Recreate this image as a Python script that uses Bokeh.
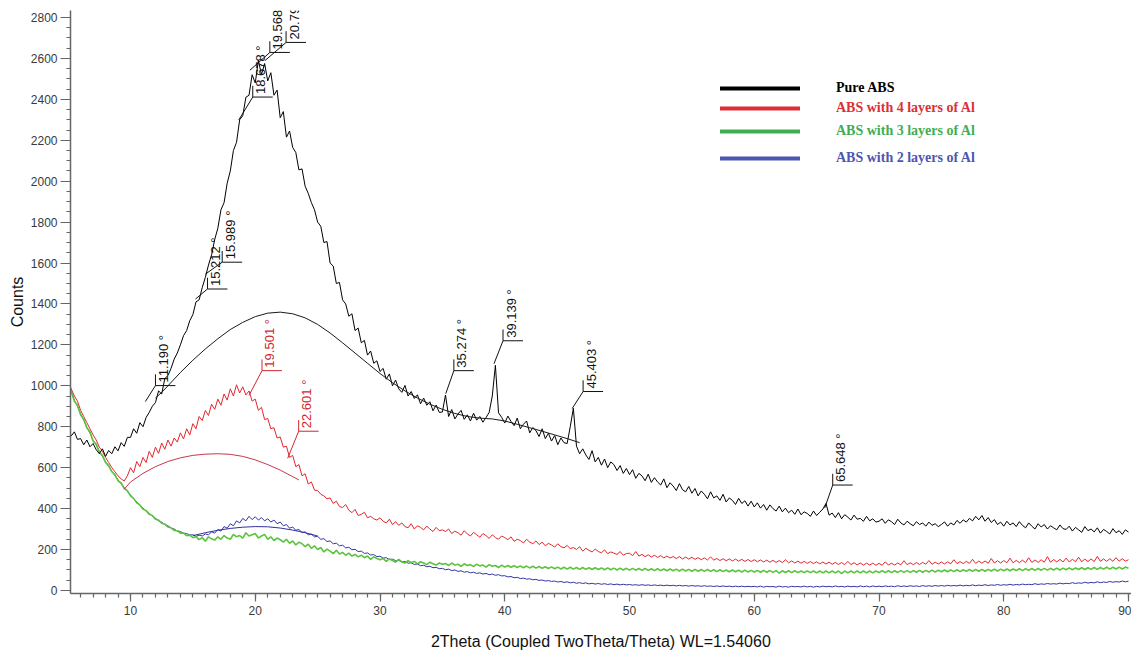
import math
from bokeh.plotting import figure
from bokeh.models import Range1d, SingleIntervalTicker, Legend, LegendItem
from bokeh.core.properties import value
from bokeh.embed import file_html
from bokeh.resources import INLINE

# ---------------- data (2Theta grid: 5.00, 5.25, ... 90.00) ----------------
X0 = 5.0
STEP = 0.25

pure_abs = [
    790, 755, 775, 738, 742, 712, 735, 702, 718, 688, 668, 692, 655, 684, 668, 702, 682, 722, 704, 748,
    748, 790, 768, 820, 800, 845, 870, 900, 918, 975, 960, 1035, 1050, 1085, 1130, 1160, 1200, 1245, 1270, 1318,
    1348, 1410, 1420, 1480, 1530, 1590, 1640, 1715, 1770, 1860, 1895, 1990, 2050, 2150, 2190, 2300, 2320, 2410, 2420, 2520,
    2480, 2590, 2520, 2575, 2490, 2530, 2420, 2445, 2310, 2340, 2215, 2245, 2165, 2140, 2055, 2060, 1975, 1940, 1895, 1860,
    1800, 1780, 1700, 1705, 1600, 1585, 1500, 1505, 1420, 1400, 1340, 1352, 1270, 1282, 1210, 1222, 1150, 1170, 1110, 1122,
    1070, 1085, 1032, 1058, 1000, 1028, 985, 968, 1002, 950, 972, 938, 956, 912, 940, 905, 922, 878, 906, 870,
    872, 955, 850, 884, 838, 862, 880, 836, 858, 828, 866, 832, 850, 822, 845, 870, 950, 1100, 868, 846,
    818, 852, 826, 805, 842, 790, 812, 828, 770, 796, 781, 752, 790, 742, 768, 730, 757, 712, 745, 722,
    718, 800, 890, 705, 668, 692, 662, 640, 683, 628, 650, 612, 642, 600, 628, 615, 586, 610, 572, 596,
    566, 590, 548, 572, 560, 536, 568, 528, 551, 530, 515, 545, 502, 526, 510, 488, 522, 492, 482, 508,
    475, 498, 462, 486, 470, 448, 482, 452, 462, 440, 470, 432, 452, 440, 420, 450, 425, 438, 412, 436,
    408, 428, 402, 420, 392, 418, 400, 388, 412, 384, 402, 380, 392, 372, 398, 370, 384, 376, 362, 388,
    366, 382, 398, 425, 368, 378, 356, 380, 350, 370, 358, 344, 368, 348, 352, 338, 362, 340, 350, 334,
    338, 350, 328, 345, 336, 322, 348, 330, 320, 338, 326, 316, 336, 322, 330, 314, 334, 318, 326, 312,
    322, 335, 314, 330, 320, 342, 328, 345, 334, 352, 340, 362, 345, 366, 338, 356, 332, 346, 322, 334,
    314, 338, 320, 330, 312, 336, 318, 306, 330, 314, 300, 326, 310, 322, 300, 316, 306, 296, 320, 302,
    298, 314, 290, 308, 296, 284, 312, 292, 300, 286, 306, 280, 298, 288, 276, 302, 282, 292, 274, 296,
    285,
]

al4 = [
    1020, 985, 950, 925, 880, 850, 820, 790, 760, 735, 700, 680, 650, 625, 600, 580, 560, 545, 535, 560,
    600, 575, 630, 605, 650, 625, 680, 650, 700, 670, 720, 690, 735, 705, 745, 725, 770, 740, 790, 760,
    815, 790, 850, 830, 880, 855, 910, 885, 935, 905, 960, 930, 985, 950, 1005, 965, 995, 955, 975, 925,
    935, 880, 895, 835, 840, 790, 795, 745, 750, 700, 705, 650, 660, 605, 615, 560, 570, 520, 530, 490,
    488, 470, 462, 448, 452, 425, 436, 410, 405, 420, 392, 380, 396, 366, 372, 382, 355, 362, 350, 344,
    355, 338, 330, 348, 322, 336, 318, 330, 312, 306, 326, 300, 316, 308, 296, 314, 300, 288, 308, 292,
    296, 288, 300, 278, 290, 282, 270, 292, 276, 266, 284, 272, 260, 278, 268, 254, 272, 258, 250, 266,
    258, 248, 262, 240, 250, 244, 232, 250, 236, 228, 242, 224, 236, 218, 230, 222, 212, 228, 214, 208,
    220, 204, 210, 200, 214, 192, 206, 196, 188, 202, 190, 184, 198, 180, 188, 182, 176, 190, 172, 180,
    182, 170, 190, 168, 176, 165, 174, 163, 172, 161, 170, 159, 168, 158, 166, 156, 165, 154, 163, 153,
    162, 152, 160, 150, 159, 149, 164, 148, 156, 146, 155, 145, 154, 144, 153, 143, 152, 142, 151, 141,
    150, 140, 149, 139, 148, 138, 147, 137, 146, 136, 150, 135, 144, 134, 143, 133, 142, 132, 141, 131,
    140, 130, 139, 129, 138, 128, 137, 127, 136, 126, 142, 126, 135, 125, 134, 124, 133, 124, 133, 123,
    132, 123, 140, 124, 133, 124, 134, 125, 145, 126, 135, 126, 136, 127, 137, 128, 146, 128, 138, 129,
    139, 129, 140, 130, 150, 131, 141, 131, 142, 132, 152, 132, 143, 133, 144, 133, 156, 134, 145, 134,
    146, 135, 158, 135, 147, 136, 148, 136, 160, 137, 149, 137, 150, 138, 165, 138, 151, 139, 152, 139,
    158, 139, 152, 140, 162, 140, 153, 141, 154, 141, 166, 142, 154, 142, 155, 142, 160, 143, 155, 143,
    150,
]

al3 = [
    1000, 972, 925, 905, 858, 835, 795, 775, 730, 715, 676, 660, 626, 610, 580, 566, 536, 525, 497, 488,
    462, 450, 428, 418, 398, 390, 372, 366, 348, 344, 328, 324, 310, 306, 293, 292, 280, 281, 268, 270,
    258, 262, 248, 258, 240, 262, 252, 246, 262, 250, 268, 256, 250, 274, 262, 268, 256, 282, 266, 272,
    278, 256, 266, 274, 250, 262, 244, 256, 248, 236, 250, 230, 242, 222, 236, 228, 214, 226, 206, 218,
    200, 210, 188, 202, 192, 180, 196, 178, 186, 172, 182, 168, 176, 164, 172, 160, 168, 152, 164, 156,
    150, 156, 142, 154, 146, 138, 152, 140, 134, 146, 136, 142, 130, 140, 134, 126, 138, 130, 124, 134,
    128, 132, 122, 134, 124, 128, 118, 130, 122, 126, 116, 128, 120, 124, 114, 126, 118, 122, 112, 124,
    114, 122, 113, 121, 112, 120, 111, 119, 110, 118, 109, 117, 108, 116, 107, 115, 106, 114, 105, 113,
    104, 113, 104, 112, 103, 112, 103, 111, 102, 111, 102, 110, 101, 110, 101, 109, 100, 109, 100, 108,
    99, 108, 99, 107, 98, 107, 98, 106, 97, 106, 97, 105, 96, 105, 96, 104, 95, 104, 95, 103,
    94, 103, 94, 102, 93, 102, 93, 101, 92, 101, 92, 100, 91, 100, 91, 99, 90, 99, 90, 98,
    90, 98, 89, 98, 89, 97, 88, 97, 84, 96, 88, 96, 87, 96, 87, 95, 87, 95, 87, 95,
    86, 95, 86, 95, 86, 95, 86, 95, 82, 95, 86, 95, 86, 95, 86, 95, 86, 95, 86, 95,
    87, 96, 87, 96, 87, 96, 88, 97, 88, 97, 88, 97, 89, 98, 89, 98, 90, 99, 90, 99,
    91, 100, 91, 100, 92, 101, 92, 101, 93, 102, 93, 102, 94, 103, 94, 103, 95, 104, 95, 104,
    96, 105, 96, 105, 97, 106, 97, 106, 98, 107, 98, 107, 99, 108, 99, 108, 100, 109, 100, 109,
    101, 110, 101, 110, 102, 111, 102, 111, 103, 112, 103, 112, 104, 113, 104, 113, 105, 114, 105, 114,
    108,
]

al2 = [
    1010, 975, 930, 900, 862, 835, 795, 770, 732, 712, 678, 655, 628, 606, 583, 562, 540, 522, 502, 484,
    466, 448, 433, 416, 403, 388, 377, 362, 353, 340, 333, 322, 316, 305, 300, 290, 288, 279, 278, 271,
    272, 264, 270, 266, 276, 272, 286, 280, 298, 290, 312, 304, 326, 316, 340, 330, 352, 340, 362, 346,
    360, 344, 356, 340, 350, 334, 344, 326, 334, 316, 322, 304, 310, 294, 298, 283, 286, 272, 275, 262,
    264, 250, 253, 239, 242, 228, 231, 218, 221, 208, 211, 199, 201, 190, 192, 181, 183, 173, 175, 165,
    167, 158, 160, 151, 153, 145, 147, 139, 141, 133, 135, 127, 129, 121, 123, 116, 118, 111, 113, 106,
    108, 101, 104, 97, 100, 93, 96, 89, 92, 86, 89, 83, 86, 80, 83, 77, 80, 74, 77, 71,
    72, 66, 68, 62, 64, 58, 60, 55, 57, 52, 54, 49, 51, 46, 48, 44, 46, 41, 44, 39,
    42, 37, 40, 35, 38, 34, 37, 32, 35, 31, 34, 30, 33, 29, 32, 28, 31, 27, 30, 27,
    29, 26, 28, 25, 28, 25, 27, 24, 27, 24, 26, 23, 26, 23, 25, 22, 25, 22, 24, 21,
    24, 21, 23, 20, 23, 20, 22, 19, 22, 19, 22, 19, 21, 18, 21, 18, 21, 18, 20, 18,
    20, 17, 21, 16, 20, 18, 19, 16, 21, 17, 19, 16, 20, 18, 19, 17, 21, 17, 20, 16,
    20, 17, 21, 18, 20, 17, 22, 18, 20, 17, 21, 18, 20, 17, 22, 18, 21, 17, 22, 18,
    21, 18, 22, 19, 21, 18, 23, 19, 22, 19, 23, 20, 22, 19, 24, 20, 23, 20, 24, 21,
    24, 21, 25, 22, 24, 22, 26, 22, 25, 23, 27, 23, 26, 24, 28, 24, 27, 25, 29, 25,
    28, 26, 30, 26, 29, 27, 31, 28, 30, 28, 33, 29, 32, 30, 34, 31, 33, 31, 36, 32,
    35, 33, 38, 34, 37, 35, 40, 36, 39, 37, 42, 38, 41, 39, 44, 40, 43, 41, 46, 42,
    45,
]

# smooth background (amorphous hump) curves
bg_abs_x = [12, 12.5, 13, 14, 15, 16, 17, 18, 19, 20, 21, 22, 23, 24, 25, 26, 27, 28, 29, 30,
            31, 32, 33, 34, 35, 36, 37, 38, 39, 40, 41, 42, 43, 44, 45, 46]
bg_abs_y = [940, 968, 1000, 1065, 1125, 1180, 1230, 1275, 1310, 1338, 1355, 1360, 1352, 1332, 1300, 1258, 1210, 1160, 1110, 1060,
            1015, 975, 940, 910, 885, 865, 850, 842, 838, 828, 812, 795, 778, 760, 742, 722]
bg_al4_x = [9.5, 10, 11, 12, 13, 14, 15, 16, 17, 18, 19, 20, 21, 22, 23, 23.5]
bg_al4_y = [495, 530, 572, 605, 630, 648, 660, 666, 668, 665, 655, 638, 615, 588, 556, 540]
bg_al2_x = [15, 16, 17, 18, 19, 20, 21, 22, 23, 24, 25]
bg_al2_y = [268, 282, 294, 303, 309, 312, 311, 305, 295, 282, 266]

# peak annotations: peak position, tip height, bracket x, bracket height
pk_txt = ["11.190 °", "15.212 °", "15.989 °", "18.678 °", "19.568 °", "20.795 °",
          "35.274 °", "39.139 °", "45.403 °", "65.648 °"]
pk_x = [11.190, 15.212, 15.989, 18.678, 19.568, 20.795, 35.274, 39.139, 45.403, 65.648]
pk_tip = [923, 1424, 1545, 2299, 2542, 2590, 962, 1108, 889, 403]
pk_bx = [12.0, 16.17, 17.35, 19.8, 21.17, 22.47, 35.92, 39.86, 46.28, 66.29]
pk_by = [1001, 1473, 1604, 2411, 2629, 2678, 1074, 1220, 972, 515]

rpk_txt = ["19.501 °", "22.601 °"]
rpk_x = [19.501, 22.601]
rpk_tip = [953, 646]
rpk_bx = [20.54, 23.48]
rpk_by = [1074, 778]

legend_names = ["Pure ABS", "ABS with 4 layers of Al", "ABS with 3 layers of Al", "ABS with 2 layers of Al"]

# ---------------- styles ----------------
C_BLACK = "#000000"
C_RED = "#e3262d"
C_GREEN = "#5cc43c"
C_BLUE = "#3434a8"
LEG_COLORS = ["#000000", "#dc2f36", "#3fae52", "#4e55b2"]
AX_COLOR = "#666666"
LBL_COLOR = "#3a3a3a"


def xs(vals):
    return [X0 + STEP * i for i in range(len(vals))]


p = figure(width=1131, height=656, output_backend="svg", toolbar_location=None,
           x_range=Range1d(5.19, 90.24), y_range=Range1d(-15, 2834),
           min_border_left=70, min_border_right=0, min_border_top=10, min_border_bottom=63)
p.outline_line_color = None
p.grid.visible = False
p.background_fill_color = "white"
p.border_fill_color = "white"

# axes
p.xaxis.ticker = SingleIntervalTicker(interval=10, num_minor_ticks=10)
p.yaxis.ticker = SingleIntervalTicker(interval=200, num_minor_ticks=4)
for ax in (p.xaxis, p.yaxis):
    ax.axis_line_color = AX_COLOR
    ax.axis_line_width = 1.5
    ax.major_tick_line_color = AX_COLOR
    ax.minor_tick_line_color = AX_COLOR
    ax.major_tick_line_width = 1.2
    ax.minor_tick_line_width = 1.2
    ax.major_tick_in = 0
    ax.minor_tick_in = 0
    ax.major_label_text_font = "Liberation Sans"
    ax.major_label_text_font_size = "12px"
    ax.major_label_text_color = LBL_COLOR
    ax.axis_label_text_font = "Liberation Sans"
    ax.axis_label_text_font_size = "16px"
    ax.axis_label_text_font_style = "normal"
    ax.axis_label_text_color = "#111111"
p.xaxis.major_tick_out = 8
p.xaxis.minor_tick_out = 4
p.xaxis.major_label_standoff = 4
p.xaxis.axis_label = "2Theta (Coupled TwoTheta/Theta) WL=1.54060"
p.xaxis.axis_label_standoff = 15
p.yaxis.major_tick_out = 10
p.yaxis.minor_tick_out = 4
p.yaxis.major_label_standoff = 3
p.yaxis.axis_label = "Counts"
p.yaxis.axis_label_standoff = 2

# data curves
p.line(xs(al4), al4, line_color=C_RED, line_width=1)
p.line(xs(al2), al2, line_color=C_BLUE, line_width=1)
p.line(xs(al3), al3, line_color=C_GREEN, line_width=1.6)
p.line(xs(pure_abs), pure_abs, line_color=C_BLACK, line_width=1)

# background humps
p.line(bg_abs_x, bg_abs_y, line_color="#1a1a1a", line_width=1)
p.line(bg_al4_x, bg_al4_y, line_color="#c8374a", line_width=1)
p.line(bg_al2_x, bg_al2_y, line_color="#30309a", line_width=1)


def annotate(px, tip, bx, by, txt, color):
    hl = 1.6
    p.segment(x0=px, y0=tip, x1=bx, y1=by, line_color=color, line_width=1)
    p.segment(x0=bx, y0=by, x1=[b + hl for b in bx], y1=by, line_color=color, line_width=1)
    p.segment(x0=bx, y0=by, x1=bx, y1=[b + 55 for b in by], line_color=color, line_width=1)
    p.text(x=bx, y=by, text=txt, angle=math.pi / 2, x_offset=8, y_offset=-3,
           text_align="left", text_baseline="middle", text_color=color,
           text_font=value("Liberation Sans"), text_font_size="13px")


annotate(pk_x, pk_tip, pk_bx, pk_by, pk_txt, "#111111")
annotate(rpk_x, rpk_tip, rpk_bx, rpk_by, rpk_txt, "#d0282e")

# legend (one per entry so each label keeps its own colour);
# the swatch renderers hold off-range points so only the legend glyph shows
leg_centers = [505, 485.5, 462, 435.5]
for name, col, yc in zip(legend_names, LEG_COLORS, leg_centers):
    r = p.line(x=[0, 1], y=[-1000, -1000], line_color=col, line_width=4, line_cap="round")
    lg = Legend(items=[LegendItem(label=name, renderers=[r])], location=(650, yc - 8),
                padding=0, margin=0, spacing=0, glyph_width=80, glyph_height=16,
                label_height=16, label_standoff=36,
                label_text_font="Liberation Serif", label_text_font_style="bold",
                label_text_font_size="14px", label_text_color=col,
                border_line_color=None, background_fill_color=None, background_fill_alpha=0)
    p.add_layout(lg)

open("out.html", "w").write(file_html(p, INLINE))
